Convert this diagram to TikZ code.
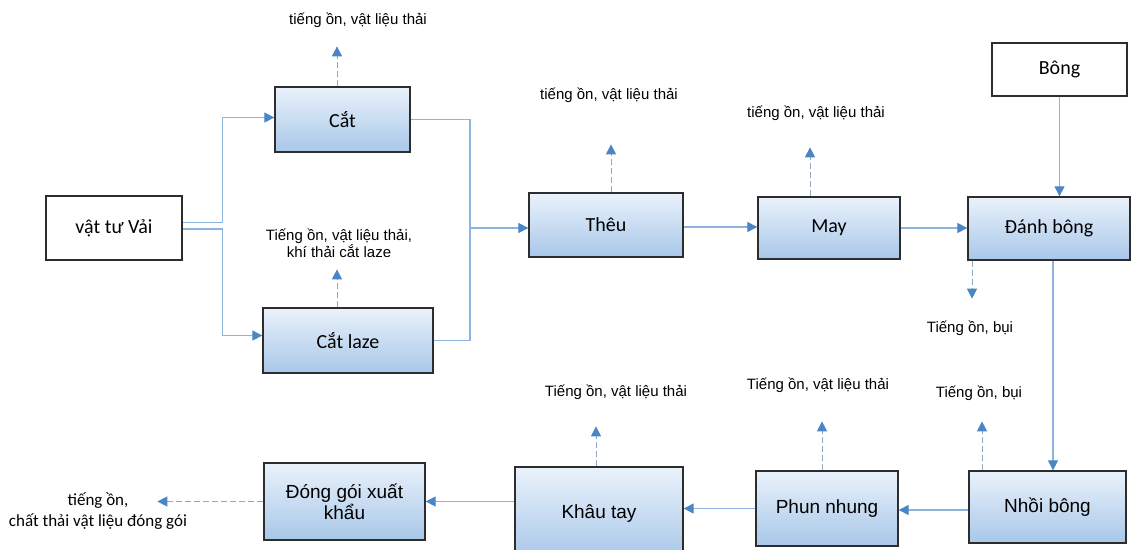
\documentclass[tikz,border=0pt]{standalone}
\usepackage{fontspec}
\setmainfont{Liberation Sans}
\newfontfamily\calfont{Carlito}
\usetikzlibrary{arrows.meta}
\definecolor{lineblue}{RGB}{140,180,222}
\definecolor{headblue}{RGB}{74,134,198}
\definecolor{dashc}{RGB}{150,168,190}
\definecolor{topc}{RGB}{234,242,251}
\definecolor{botc}{RGB}{168,199,233}
\definecolor{edgec}{RGB}{45,45,45}
\begin{document}
\begin{tikzpicture}[x=1pt,y=-1pt,
 base/.style={draw=edgec, line width=1.3pt, inner sep=0pt, align=center},
 procbox/.style={base, top color=topc, bottom color=botc},
 plainbox/.style={base, fill=white},
 calib/.style={font=\calfont\fontsize{20}{22}\selectfont},
 arial/.style={font=\fontsize{19}{21}\selectfont},
 note/.style={font=\fontsize{15}{17}\selectfont, align=center, inner sep=0pt},
 calnote/.style={font=\calfont\fontsize{17}{21}\selectfont, align=center, inner sep=0pt},
 flow/.style={draw=lineblue, line width=1.1pt, -{Triangle[length=10pt,width=10pt,color=headblue]}},
 plainline/.style={draw=lineblue, line width=1.1pt},
 waste/.style={draw=dashc, line width=1pt, dash pattern=on 6pt off 3pt, -{Triangle[length=10pt,width=10pt,color=headblue]}},
]
\useasboundingbox (0,0) rectangle (1132,549);

% boxes
\node[plainbox, calib, minimum width=136pt, minimum height=64pt] (vai) at (114,228) {vật tư Vải};
\node[procbox, calib, minimum width=135pt, minimum height=65pt] (cat) at (342.5,119.5) {Cắt};
\node[procbox, calib, minimum width=170pt, minimum height=65pt] (laze) at (348,340.5) {Cắt laze};
\node[procbox, calib, minimum width=154pt, minimum height=64pt] (theu) at (606,225) {Thêu};
\node[procbox, calib, minimum width=142pt, minimum height=62pt] (may) at (829,228) {May};
\node[procbox, calib, minimum width=162pt, minimum height=63pt] (danh) at (1049,228.5) {Đánh bông};
\node[plainbox, calib, minimum width=135pt, minimum height=53pt] (bong) at (1059.5,69.5) {Bông};
\node[procbox, arial, minimum width=157pt, minimum height=72pt] (nhoi) at (1047.5,507) {Nhồi bông};
\node[procbox, arial, minimum width=142pt, minimum height=75pt] (phun) at (827,508.5) {Phun nhung};
\node[procbox, arial, minimum width=168pt, minimum height=93pt] (khau) at (599,513.5) {Khâu tay};
\node[procbox, arial, minimum width=161pt, minimum height=77pt] (dong) at (344.5,501.5) {Đóng gói xuất\\khẩu};

% main flow
\draw[flow] ([yshift=5.5pt]vai.east) -- ++(40,0) |- ([yshift=2pt]cat.west);
\draw[flow] ([yshift=-1pt]vai.east) -- ++(40,0) |- ([yshift=5pt]laze.west);
\coordinate (join) at (470,228);
\draw[plainline] (cat.east) -| (join);
\draw[plainline] (laze.east) -| (join);
\draw[flow] (join) -- (join -| theu.west);
\draw[flow] ([yshift=-2pt]theu.east) -- ([yshift=-2pt]theu.east -| may.west);
\draw[flow] (may.east) -- (may.east -| danh.west);
\draw[flow] (bong.south) -- (bong.south |- danh.north);
\draw[flow] ([xshift=4pt]danh.south) -- ([xshift=4pt]danh.south |- nhoi.north);
\draw[flow] ([yshift=-3pt]nhoi.west) -- ([yshift=-3pt]nhoi.west -| phun.east);
\draw[flow] (phun.west) -- (phun.west -| khau.east);
\draw[flow] (khau.west |- dong.east) -- (dong.east);

% waste labels
\node[note] (n1) at (358,20) {tiếng ồn, vật liệu thải};
\node[note] (n2) at (339,243) {Tiếng ồn, vật liệu thải,\\khí thải cắt laze};
\node[note] (n3) at (609,95) {tiếng ồn, vật liệu thải};
\node[note] (n4) at (816,113) {tiếng ồn, vật liệu thải};
\node[note] (n5) at (970,328) {Tiếng ồn, bụi};
\node[note] (n6) at (979,393) {Tiếng ồn, bụi};
\node[note] (n7) at (818,385) {Tiếng ồn, vật liệu thải};
\node[note] (n8) at (616,392) {Tiếng ồn, vật liệu thải};
\node[calnote] (n9) at (98,511) {tiếng ồn,\\chất thải vật liệu đóng gói};

% waste arrows
\draw[waste] ([xshift=-5.5pt]cat.north) -- ++(0,-40);
\draw[waste] ([xshift=-11pt]laze.north) -- ++(0,-38);
\draw[waste] ([xshift=5pt]theu.north) -- ++(0,-48);
\draw[waste] ([xshift=-19pt]may.north) -- ++(0,-49);
\draw[waste] ([xshift=-77pt]danh.south) -- ++(0,38);
\draw[waste] ([xshift=-65.5pt]nhoi.north) -- ++(0,-49);
\draw[waste] ([xshift=-5pt]phun.north) -- ++(0,-49);
\draw[waste] ([xshift=-3pt]khau.north) -- ++(0,-40);
\draw[waste] (dong.west) -- ++(-106,0);
\end{tikzpicture}
\end{document}
